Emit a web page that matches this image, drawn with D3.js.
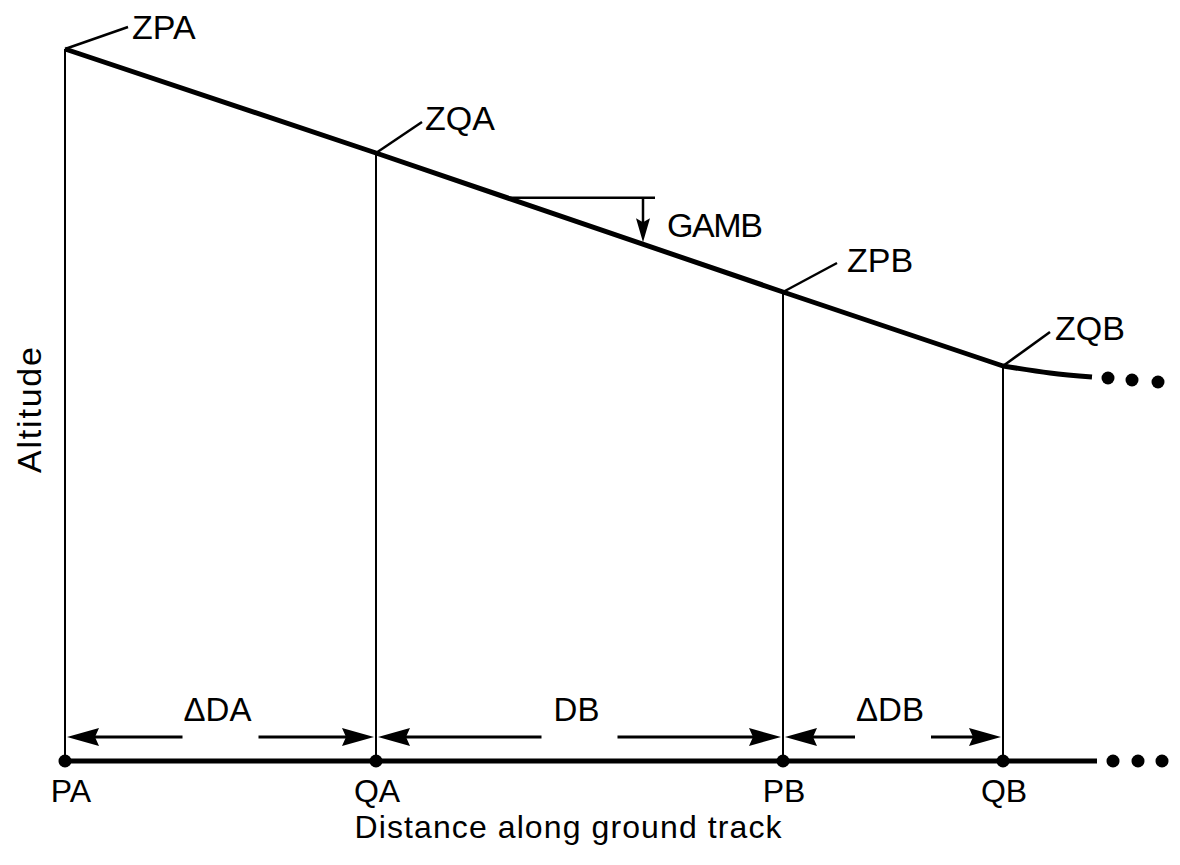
<!DOCTYPE html>
<html>
<head>
<meta charset="utf-8">
<script src="https://cdn.jsdelivr.net/npm/d3@7"></script>
<style>
  body { margin: 0; background: #fff; }
  text { font-family: "Liberation Sans", Arial, sans-serif; fill: #000; }
</style>
</head>
<body>
<div id="chart"></div>
<script>
var w = 1180, h = 865;

// --- data (distance and altitude in arbitrary diagram units) ---
var pointNames = ['PA', 'QA', 'PB', 'QB'];
var altNames = ['ZPA', 'ZQA', 'ZPB', 'ZQB'];
var distance = [0, 3.11, 7.18, 9.38];
var altitude = [7.12, 6.08, 4.69, 3.95];
var tailDistance = [9.38, 9.85, 10.27]; // path keeps going after ZQB
var tailAltitude = [3.95, 3.88, 3.84];
var moreDistanceTop = [10.43, 10.67, 10.93];
var moreAltitudeTop = [3.83, 3.81, 3.79];
var moreDistanceGround = [10.48, 10.73, 10.97];
var groundEnd = 10.32;
var dims = [
  { label: '\u0394DA', from: 0, to: 1 },
  { label: 'DB', from: 1, to: 2 },
  { label: '\u0394DB', from: 2, to: 3 }
];
var gambRef = [4.42, 5.90]; // horizontal reference line for flight path angle
var gambArrowAt = 5.78;

var x = d3.scaleLinear().domain([0, 10]).range([65, 1065]);
var y = d3.scaleLinear().domain([0, 8]).range([761, -39]);

var svg = d3.select('#chart').append('svg')
  .attr('width', w).attr('height', h);

//altitude along path, used for gamb arrow
var altAt = d3.scaleLinear().domain(distance).range(altitude);

// vertical drop lines
svg.selectAll('line.drop')
  .data(distance)
  .enter()
  .append('line')
  .attr('class', 'drop')
  .attr('x1', function (d) { return x(d); })
  .attr('x2', function (d) { return x(d); })
  .attr('y1', function (d, i) { return y(altitude[i]); })
  .attr('y2', y(0))
  .attr('stroke', '#000')
  .attr('stroke-width', 2);

// flight path
var line = d3.line()
  .x(function (d) { return x(d[0]); })
  .y(function (d) { return y(d[1]); });

svg.append('path')
  .attr('d', line(d3.zip(distance, altitude)))
  .attr('fill', 'none')
  .attr('stroke', '#000')
  .attr('stroke-width', 5)
  .attr('stroke-linejoin', 'round');

svg.append('path')
  .attr('d', line.curve(d3.curveNatural)(d3.zip(tailDistance, tailAltitude)))
  .attr('fill', 'none')
  .attr('stroke', '#000')
  .attr('stroke-width', 5);
line.curve(d3.curveLinear);

svg.selectAll('circle.moreTop')
  .data(moreDistanceTop)
  .enter()
  .append('circle')
  .attr('cx', function (d) { return x(d); })
  .attr('cy', function (d, i) { return y(moreAltitudeTop[i]); })
  .attr('r', 6.5)
  .attr('fill', '#000');

// ground track
svg.append('line')
  .attr('x1', x(0)).attr('x2', x(groundEnd))
  .attr('y1', y(0)).attr('y2', y(0))
  .attr('stroke', '#000')
  .attr('stroke-width', 5);

svg.selectAll('circle.node')
  .data(distance)
  .enter()
  .append('circle')
  .attr('cx', function (d) { return x(d); })
  .attr('cy', y(0))
  .attr('r', 6.5)
  .attr('fill', '#000');

svg.selectAll('circle.moreGround')
  .data(moreDistanceGround)
  .enter()
  .append('circle')
  .attr('cx', function (d) { return x(d); })
  .attr('cy', y(0))
  .attr('r', 6.5)
  .attr('fill', '#000');

// point labels on the ground
svg.selectAll('text.pt')
  .data(pointNames)
  .enter()
  .append('text')
  .attr('x', function (d, i) { return x(distance[i]) + (i == 0 ? 6 : 1); })
  .attr('y', y(0) + 41)
  .attr('text-anchor', 'middle')
  .style('font-size', '32px')
  .text(function (d) { return d; });

// altitude labels with leader lines
var leader = [[63, -22, 67, -10], [46, -31, 49, -23], [54, -29, 64, -20], [47, -34, 52, -26]];
altNames.forEach(function (name, i) {
  var px = x(distance[i]), py = y(altitude[i]);
  svg.append('line')
    .attr('x1', px).attr('y1', py)
    .attr('x2', px + leader[i][0]).attr('y2', py + leader[i][1])
    .attr('stroke', '#000').attr('stroke-width', 2.5);
  svg.append('text')
    .attr('x', px + leader[i][2])
    .attr('y', py + leader[i][3])
    .style('font-size', '34px')
    .text(name);
});

// GAMB angle
var gy = y(altAt(gambRef[0]));
svg.append('line')
  .attr('x1', x(gambRef[0])).attr('x2', x(gambRef[1]))
  .attr('y1', gy).attr('y2', gy)
  .attr('stroke', '#000').attr('stroke-width', 2.5);
var ax = x(gambArrowAt), ay = y(altAt(gambArrowAt)) - 2;
svg.append('line')
  .attr('x1', ax).attr('x2', ax)
  .attr('y1', gy).attr('y2', ay - 18)
  .attr('stroke', '#000').attr('stroke-width', 2.5);
svg.append('path')
  .attr('d', 'M' + ax + ',' + ay + 'L' + (ax - 7) + ',' + (ay - 24) + 'L' + ax + ',' + (ay - 20) + 'L' + (ax + 7) + ',' + (ay - 24) + 'Z')
  .attr('fill', '#000');
svg.append('text')
  .attr('x', ax + 24).attr('y', gy + 39)
  .style('font-size', '34px')
  .attr('textLength', 96)
  .text('GAMB');

// dimension arrows
function head(tipX, tipY, dir) {
  // dir = 1 pointing right, -1 pointing left
  var L = 32, W = 9;
  return 'M' + tipX + ',' + tipY +
    'L' + (tipX - dir * L) + ',' + (tipY - W) +
    'L' + (tipX - dir * (L - 4)) + ',' + tipY +
    'L' + (tipX - dir * L) + ',' + (tipY + W) + 'Z';
}
var dimY = y(0) - 24;
dims.forEach(function (dm) {
  var x0 = x(distance[dm.from]) + 2, x1 = x(distance[dm.to]) - 2;
  var mid = (x0 + x1) / 2, gap = 38;
  svg.append('line')
    .attr('x1', x0 + 20).attr('x2', mid - gap)
    .attr('y1', dimY).attr('y2', dimY)
    .attr('stroke', '#000').attr('stroke-width', 3);
  svg.append('line')
    .attr('x1', mid + gap).attr('x2', x1 - 20)
    .attr('y1', dimY).attr('y2', dimY)
    .attr('stroke', '#000').attr('stroke-width', 3);
  svg.append('path').attr('d', head(x0, dimY, -1)).attr('fill', '#000');
  svg.append('path').attr('d', head(x1, dimY, 1)).attr('fill', '#000');
  svg.append('text')
    .attr('x', mid - 3).attr('y', y(0) - 40)
    .attr('text-anchor', 'middle')
    .style('font-size', '33px')
    .text(dm.label);
});

// axis titles
svg.append('text')
  .attr('transform', 'translate(41,410) rotate(-90)')
  .attr('text-anchor', 'middle')
  .style('font-size', '34px')
  .attr('textLength', 126)
  .text('Altitude');

svg.append('text')
  .attr('x', 568).attr('y', 838)
  .attr('text-anchor', 'middle')
  .style('font-size', '32px')
  .attr('textLength', 427)
  .text('Distance along ground track');
</script>
</body>
</html>
